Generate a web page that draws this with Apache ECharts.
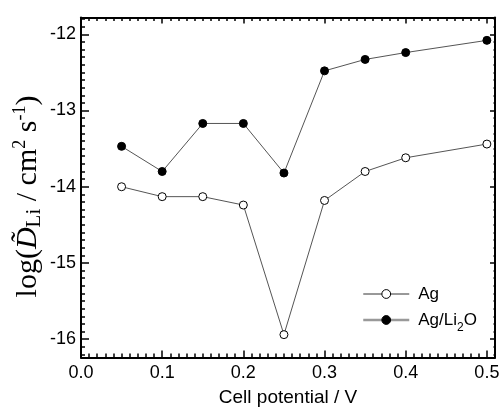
<!DOCTYPE html>
<html>
<head>
<meta charset="utf-8">
<script src="https://cdn.jsdelivr.net/npm/echarts@6/dist/echarts.min.js"></script>
<style>
  html, body { margin: 0; padding: 0; background: #fff; }
  #chart { width: 499px; height: 410px; }
</style>
</head>
<body>
<div id="chart"></div>
<script>
// Lithium diffusion coefficient (log scale) vs. cell potential
const potentials = [0.05, 0.10, 0.15, 0.20, 0.25, 0.30, 0.35, 0.40, 0.50];
const logDAg = [-14.00, -14.13, -14.13, -14.24, -15.94, -14.18, -13.80, -13.62, -13.44];
const logDAgLi2O = [-13.47, -13.80, -13.17, -13.17, -13.82, -12.48, -12.33, -12.24, -12.08];

const seriesNames = ['Ag', 'Ag/Li2O'];
const xMajorTicks = [0.0, 0.1, 0.2, 0.3, 0.4, 0.5];
const yMajorTicks = [-16, -15, -14, -13, -12];
const xRange = [0, 0.51];
const yRange = [-16.24, -11.78];
const xMinorStep = 0.01;
const yMinorStep = 0.1;

function stepTicks(lo, hi, step) {
  const out = [];
  const n0 = Math.ceil(lo / step - 1e-9);
  const n1 = Math.floor(hi / step + 1e-9);
  for (let n = n0; n <= n1; n++) out.push(+(n * step).toFixed(4));
  return out;
}
const xMinorTicks = stepTicks(xRange[0], xRange[1], xMinorStep);
const yMinorTicks = stepTicks(yRange[0], yRange[1], yMinorStep);

const SANS = 'Liberation Sans';
const SERIF = 'Liberation Serif';
const INK = '#000';

// One axis per side and tick kind: major ticks (with labels on left/bottom) and minor ticks
function frameAxis(dim, position, ticks, tickLen, showLine, labelOpts, extra) {
  const range = dim === 'x' ? xRange : yRange;
  return Object.assign({
    type: 'value',
    position: position,
    min: range[0],
    max: range[1],
    axisLine: { show: showLine, onZero: false, lineStyle: { color: INK, width: 2 } },
    axisTick: {
      show: true, inside: true, length: tickLen,
      customValues: ticks,
      lineStyle: { color: INK, width: 1.5 }
    },
    axisLabel: labelOpts || { show: false },
    splitLine: { show: false },
    minorTick: { show: false },
    splitArea: { show: false }
  }, extra || {});
}

const chart = echarts.init(document.getElementById('chart'), null, { renderer: 'canvas' });

const option = {
  animation: false,
  backgroundColor: '#fff',
  grid: {
    left: 81, right: 4, top: 17.5, bottom: 52.5,
    containLabel: false,
    outerBoundsMode: 'none'
  },
  xAxis: [
    frameAxis('x', 'bottom', xMajorTicks, 7, true, {
      show: true,
      customValues: xMajorTicks,
      formatter: v => v.toFixed(1),
      fontFamily: SANS, fontSize: 18, color: INK, margin: 7
    }, {
      name: 'Cell potential / V',
      nameLocation: 'middle',
      nameGap: 31,
      nameMoveOverlap: false,
      nameTextStyle: { fontFamily: SANS, fontSize: 19, color: INK }
    }),
    frameAxis('x', 'bottom', xMinorTicks, 4, false),
    frameAxis('x', 'top', xMajorTicks, 6, true),
    frameAxis('x', 'top', xMinorTicks, 3.5, false)
  ],
  yAxis: [
    frameAxis('y', 'left', yMajorTicks, 8, true, {
      show: true,
      customValues: yMajorTicks,
      formatter: v => String(v),
      fontFamily: SANS, fontSize: 18, color: INK, margin: 5
    }, {
      name: 'log({it|D\u0303}{sub|Li} / cm{sup|2} s{sup|-1})',
      nameLocation: 'middle',
      nameGap: 36,
      nameRotate: 90,
      nameMoveOverlap: false,
      nameTextStyle: {
        fontFamily: SERIF, fontSize: 30, color: INK, lineHeight: 34,
        padding: [0, 18, 0, 0],
        rich: {
          it: { fontFamily: SERIF, fontStyle: 'italic', fontSize: 30, color: INK, lineHeight: 34 },
          sub: { fontFamily: SERIF, fontSize: 21, color: INK, lineHeight: 22, verticalAlign: 'bottom' },
          sup: { fontFamily: SERIF, fontSize: 18, color: INK, lineHeight: 18, verticalAlign: 'top' }
        }
      }
    }),
    frameAxis('y', 'left', yMinorTicks, 4, false),
    frameAxis('y', 'right', yMajorTicks, 5, true),
    frameAxis('y', 'right', yMinorTicks, 1.5, false)
  ],
  legend: {
    orient: 'vertical',
    left: 362,
    top: 284,
    padding: 0,
    itemWidth: 46,
    itemHeight: 11,
    itemGap: 6,
    selectedMode: false,
    textStyle: {
      fontFamily: SANS, fontSize: 17, color: INK, padding: [0, 0, 0, 4], lineHeight: 20,
      rich: {
        sub: { fontFamily: SANS, fontSize: 12, color: INK, lineHeight: 10, verticalAlign: 'bottom', padding: [0, 0, -4, 0] }
      }
    },
    formatter: name => name.replace('Li2O', 'Li{sub|2}O'),
    data: [
      { name: seriesNames[0], lineStyle: { color: '#333', width: 1 },
        itemStyle: { color: '#fff', borderColor: INK, borderWidth: 1 } },
      { name: seriesNames[1], lineStyle: { color: '#999', width: 2.5 },
        itemStyle: { color: INK, borderColor: INK, borderWidth: 1 } }
    ]
  },
  series: [
    {
      name: seriesNames[0],
      type: 'line',
      xAxisIndex: 0, yAxisIndex: 0,
      data: potentials.map((x, i) => [x, logDAg[i]]),
      symbol: 'circle',
      symbolSize: 8,
      itemStyle: { color: '#fff', borderColor: INK, borderWidth: 1 },
      lineStyle: { color: '#555', width: 1 },
      emphasis: { disabled: true },
      z: 3
    },
    {
      name: seriesNames[1],
      type: 'line',
      xAxisIndex: 0, yAxisIndex: 0,
      data: potentials.map((x, i) => [x, logDAgLi2O[i]]),
      symbol: 'circle',
      symbolSize: 8,
      itemStyle: { color: INK, borderColor: INK, borderWidth: 1 },
      lineStyle: { color: '#555', width: 1 },
      emphasis: { disabled: true },
      z: 3
    }
  ]
};

chart.setOption(option);
</script>
</body>
</html>
